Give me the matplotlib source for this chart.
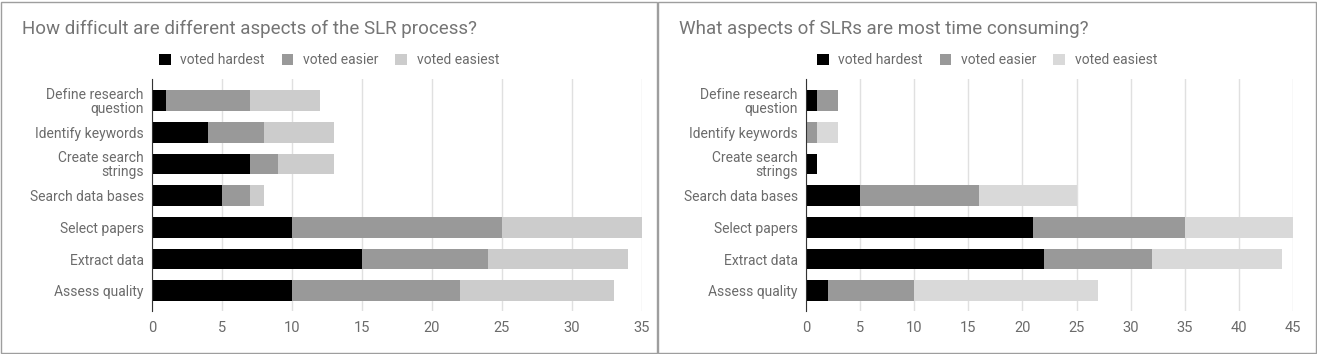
import matplotlib
matplotlib.use("Agg")
import matplotlib.pyplot as plt
from matplotlib.patches import Patch, Rectangle

plt.rcParams["font.family"] = ["Roboto", "DejaVu Sans"]

categories = ["Define research\nquestion", "Identify keywords", "Create search\nstrings",
              "Search data bases", "Select papers", "Extract data", "Assess quality"]
series_names = ["voted hardest", "voted easier", "voted easiest"]

# left chart: difficulty
diff_hardest = [1, 4, 7, 5, 10, 15, 10]
diff_easier = [6, 4, 2, 2, 15, 9, 12]
diff_easiest = [5, 5, 4, 1, 10, 10, 11]

# right chart: time consuming
time_hardest = [1, 0, 1, 5, 21, 22, 2]
time_easier = [2, 1, 0, 11, 14, 10, 8]
time_easiest = [0, 2, 0, 9, 10, 12, 17]

W, H = 1317, 354
TEXT = "#6b6b6b"
GRID = "#e0e0e0"


def px_axes(fig, x0, x1, y0, y1):
    # pixel box -> figure fraction
    return fig.add_axes([x0 / W, 1 - y1 / H, (x1 - x0) / W, (y1 - y0) / H])


def draw_panel(fig, box, axbox, title, series, colors, xmax):
    px0, px1 = box
    fig.add_artist(Rectangle((px0 / W, 1.5 / H), (px1 - px0) / W, (H - 3) / H,
                             transform=fig.transFigure, fill=False,
                             edgecolor="#9e9e9e", linewidth=1.0))
    fig.text((px0 + 21) / W, 1 - 29 / H, title, fontsize=13.5, color="#757575",
             ha="left", va="center")

    ax = px_axes(fig, *axbox)
    y = list(range(len(categories)))
    left = [0] * len(categories)
    for vals, col in zip(series, colors):
        ax.barh(y, vals, left=left, height=0.65, color=col, linewidth=0)
        left = [a + b for a, b in zip(left, vals)]

    ax.set_ylim(6.64, -0.68)
    ax.set_xlim(0, xmax)
    ax.set_xticks(range(0, xmax + 1, 5))
    ax.set_yticks(y)
    ax.set_yticklabels(categories, linespacing=0.95)
    ax.tick_params(length=0, labelsize=10, labelcolor=TEXT, pad=6)
    ax.tick_params(axis="x", pad=7, labelsize=10.5)
    ax.grid(axis="x", color=GRID, linewidth=1)
    ax.set_axisbelow(True)
    for s in ["top", "right", "bottom"]:
        ax.spines[s].set_visible(False)
    ax.spines["left"].set_color("#333333")

    handles = [Patch(facecolor=c, edgecolor="none") for c in colors]
    fig.legend(handles, series_names, loc="center", ncol=3,
               bbox_to_anchor=((px0 + px1) / 2 / W, 1 - 60 / H),
               frameon=False, fontsize=10, labelcolor=TEXT,
               handlelength=0.85, handleheight=0.85, handletextpad=0.7,
               columnspacing=1.2)
    return ax


fig = plt.figure(figsize=(W / 100, H / 100), dpi=100)

draw_panel(fig, (1, 657), (152, 642, 79, 311),
           "How difficult are different aspects of the SLR process?",
           [diff_hardest, diff_easier, diff_easiest],
           ["#000000", "#999999", "#cccccc"], 35)

draw_panel(fig, (658, 1316), (806, 1293, 79, 311),
           "What aspects of SLRs are most time consuming?",
           [time_hardest, time_easier, time_easiest],
           ["#000000", "#999999", "#d9d9d9"], 45)

fig.savefig("out.png", dpi=100)
